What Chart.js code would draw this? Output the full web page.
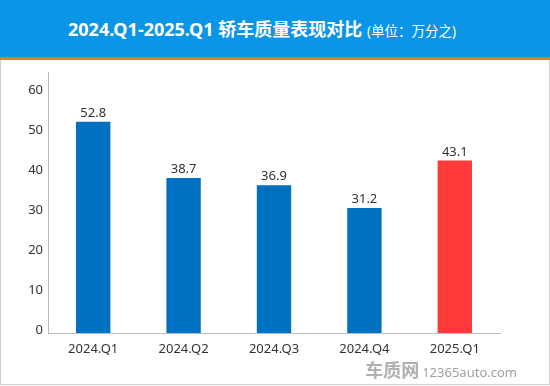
<!DOCTYPE html>
<html>
<head>
<meta charset="utf-8">
<script src="https://cdn.jsdelivr.net/npm/chart.js@4.4.1/dist/chart.umd.min.js"></script>
<style>
  body { margin: 0; background: #fff; font-family: 'Noto Sans', 'Noto Sans CJK SC', sans-serif; }
  #wrap { position: relative; width: 550px; height: 386px; overflow: hidden; }
  #head { position: absolute; left: 0; top: 0; width: 550px; height: 57px; background: #0a95e7; }
  #stripe { position: absolute; left: 0; top: 57px; width: 550px; height: 3px; background: #f07d00; }
  #title { position: absolute; left: 68px; top: 16px; color: #fff; white-space: nowrap;
           font: bold 18px 'Noto Sans', 'Noto Sans CJK SC', sans-serif; line-height: 26px; }
  #title span { font-weight: normal; font-size: 13.5px; }
  #panel { position: absolute; left: 0; top: 60px; width: 548px; height: 324px;
           border: 1px solid #cfcfcf; border-top: none; }
  #mark { position: absolute; right: 33px; bottom: 4px; color: #a0a0a0; white-space: nowrap; }
  #mark b { font: bold 18px 'Noto Sans CJK SC', sans-serif; letter-spacing: 0px; color: #b0b0b0; }
  #mark i { font: normal 13px 'Noto Sans', sans-serif; margin-left: 3px; font-style: normal; }
</style>
</head>
<body>
<div id="wrap">
  <div id="head"></div>
  <div id="stripe"></div>
  <div id="title">2024.Q1-2025.Q1 轿车质量表现对比 <span>(单位：万分之)</span></div>
  <div id="panel"><canvas id="chart" width="548" height="324"></canvas></div>
  <div id="mark"><b>车质网</b><i>12365auto.com</i></div>
</div>
<script>
const quarters = ['2024.Q1', '2024.Q2', '2024.Q3', '2024.Q4', '2025.Q1'];
const values = [52.8, 38.7, 36.9, 31.2, 43.1];
const barColors = ['#0070c0', '#0070c0', '#0070c0', '#0070c0', '#fe3a3a'];
const yTicks = [0, 10, 20, 30, 40, 50, 60];

const ctx = document.getElementById('chart');

// value labels above each bar
const valueLabels = {
    id: 'valueLabels',
    afterDatasetsDraw(chart) {
        const c = chart.ctx;
        const meta = chart.getDatasetMeta(0);
        c.save();
        c.font = '13px "Noto Sans", sans-serif';
        c.fillStyle = '#333';
        c.textAlign = 'center';
        c.textBaseline = 'bottom';
        meta.data.forEach((bar, i) => {
            c.fillText(values[i].toFixed(1), bar.x, bar.y - 2);
        });
        c.restore();
    }
};

new Chart(ctx, {
    type: 'bar',
    data: {
        labels: quarters,
        datasets: [{
            data: values,
            backgroundColor: barColors,
            barPercentage: 0.38,
            categoryPercentage: 1
        }]
    },
    options: {
        responsive: false,
        animation: false,
        layout: { padding: { top: 12, right: 49, left: 0, bottom: 0 } },
        plugins: {
            legend: { display: false },
            tooltip: { enabled: false }
        },
        scales: {
            x: {
                grid: { display: false, drawTicks: false },
                border: { color: '#bdbdbd', width: 1 },
                ticks: { color: '#333', font: { size: 13, family: 'Noto Sans' }, padding: 8 },
                afterFit(scale) { scale.height = 51; }
            },
            y: {
                min: 0,
                max: 65,
                grid: { display: false, drawTicks: false },
                border: { color: '#bdbdbd', width: 1 },
                ticks: { stepSize: 10, color: '#333', font: { size: 13, family: 'Noto Sans' }, padding: 5, labelOffset: -3 },
                afterBuildTicks(scale) {
                    scale.ticks = yTicks.map(v => ({ value: v }));
                },
                afterFit(scale) { scale.width = 47; }
            }
        }
    },
    plugins: [valueLabels]
});
</script>
</body>
</html>
